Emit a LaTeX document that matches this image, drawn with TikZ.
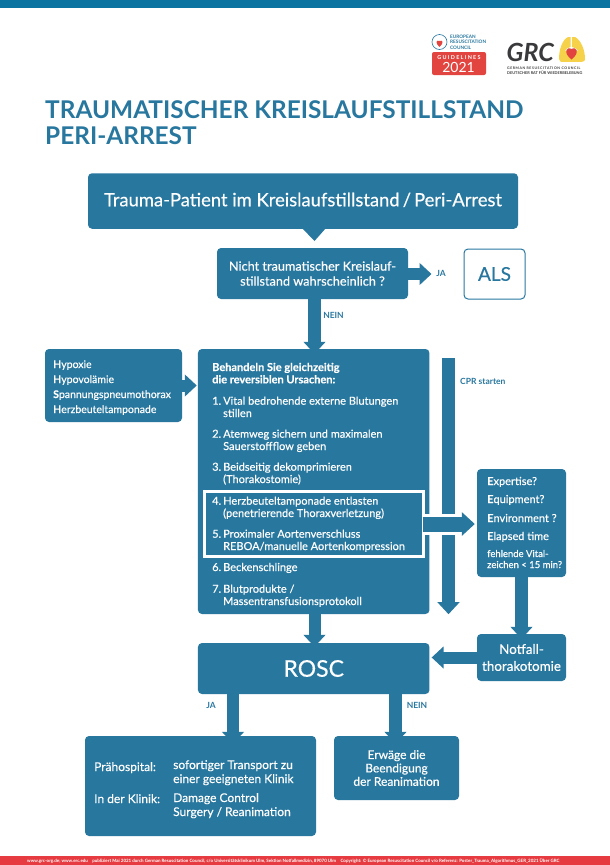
\documentclass[tikz,border=0pt]{standalone}
\usepackage{fontspec}
\setmainfont{Lato}
\newfontfamily\med{Lato}[FakeBold=0.35]
\usetikzlibrary{arrows.meta,calc}
\definecolor{ercblue}{HTML}{28779F}
\definecolor{topbar}{HTML}{0B74A0}
\definecolor{ftred}{HTML}{E63B40}
\definecolor{logored}{HTML}{E2453F}
\definecolor{logoyellow}{HTML}{F6D24A}
\definecolor{logodark}{HTML}{3A3A3C}
\newcommand{\fs}[2]{\fontsize{#1}{#2}\selectfont\med}
\newcommand{\num}[1]{\makebox[11pt][l]{#1}}
\tikzset{
  box/.style={fill=ercblue,rounded corners=4pt,inner sep=0pt,text=white,align=center,font=\fs{12.7}{15}},
  tline/.style={inner sep=0pt,text=white,align=left,anchor=base west,font=\fs{11}{12.3}},
  lab/.style={inner sep=0pt,text=ercblue,font=\fontsize{8.5}{10}\selectfont\bfseries},
  blockarrow/.style={draw=ercblue,line width=13pt,-{Triangle[length=12pt,width=21.5pt,fill=ercblue]}},
}
\begin{document}
\begin{tikzpicture}[x=1pt,y=-1pt]
\useasboundingbox (0,0) rectangle (610,865);
\fill[white] (0,0) rectangle (610,865);
\fill[topbar] (0,0) rectangle (610,8);
\fill[ftred] (0,856) rectangle (610,865);
\node[inner sep=0pt,anchor=base west,text=white] (footer) at (27,862.2) {\fontsize{4.47}{5}\selectfont\bfseries www.grc-org.de; www.erc.edu\quad publiziert Mai 2021 durch German Resuscitation Council, c/o Universitätsklinikum Ulm, Sektion Notfallmedizin, 89070 Ulm\quad Copyright: © European Resuscitation Council v/o Referenz: Poster\_Trauma\_Algorithmus\_GER\_2021 Über GRC};

% title
\node[inner sep=0pt,anchor=base west,text=ercblue] (t1) at (45,118) {\fontsize{24.4}{26}\selectfont\bfseries TRAUMATISCHER KREISLAUFSTILLSTAND};
\node[inner sep=0pt,anchor=base west,text=ercblue] (t2) at (45,144) {\fontsize{24.4}{26}\selectfont\bfseries PERI-ARREST};

% ERC logo
\draw[ercblue,line width=.6pt,fill=white] (439.5,42) circle (7.5);
\fill[logored] (439.5,47) .. controls (435,43) and (436,39.5) .. (439.5,41) .. controls (443,39.5) and (444,43) .. (439.5,47);
\foreach \yy/\tt in {38/EUROPEAN,43.5/RESUSCITATION,49/COUNCIL}
  \node[inner sep=0pt,anchor=base west,text=ercblue] at (450,\yy) {\fontsize{4.7}{5}\selectfont\bfseries \tt};
\fill[logored,rounded corners=2pt] (432,52) rectangle (486,75);
\node[inner sep=0pt,text=white] (g1) at (459,57.5) {\fontsize{5.4}{6}\selectfont\bfseries G U I D E L I N E S};
\node[inner sep=0pt,text=white] (g2) at (458.5,67.5) {\fontsize{14}{16}\selectfont 2021};
% GRC logo
\node[inner sep=0pt,anchor=base west,text=logodark] (grc) at (506.5,61.5) {\fontsize{25}{26}\selectfont\bfseries\itshape GRC};
\fill[logoyellow] (570.5,37) -- (570.5,47) .. controls (568,47) and (566,49) .. (565,51) -- (565,62) .. controls (561,62) and (559,62) .. (559,59) .. controls (559,50) and (562,40) .. (568,37) -- cycle;
\fill[logoyellow] (572,37) -- (572,47) .. controls (575,47) and (577,49) .. (578,51) -- (578,62) .. controls (582,62) and (585,62) .. (585,59) .. controls (585,50) and (581,40) .. (575,37) -- cycle;
\fill[logoyellow] (565,51) rectangle (578,62);
\fill[logored] (571.5,59.5) .. controls (563,53) and (566,46) .. (571.5,49) .. controls (577,46) and (580,53) .. (571.5,59.5);
\node[inner sep=0pt,anchor=base west,text=logodark] (g3) at (507,69.3) {\fontsize{3.5}{4}\selectfont\bfseries\addfontfeature{LetterSpace=16}GERMAN RESUSCITATION COUNCIL};
\node[inner sep=0pt,anchor=base west,text=logodark] (g4) at (507,74.5) {\fontsize{3.85}{5}\selectfont\bfseries DEUTSCHER RAT FÜR WIEDERBELEBUNG};

% helper x positions of the arrows
\coordinate (xa) at (314.5,0);
\coordinate (xb) at (233,0);
\coordinate (xc) at (395.5,0);
\coordinate (xd) at (521.5,0);

% boxes
\node[box,minimum width=430pt,minimum height=55.5pt,font=\fs{18.4}{22}] (start) at (303,201) {\raisebox{3pt}{Trauma-Patient im Kreislaufstillstand\,/\,Peri-Arrest}};
\fill[ercblue] (302,228) -- (326,228) -- (314.5,241) -- cycle;
\node[box,minimum width=191pt,minimum height=51pt] (q) at (312.5,273.5) {Nicht traumatischer Kreislauf-\\stillstand wahrscheinlich ?};
\node[draw=ercblue,line width=1pt,rounded corners=4pt,minimum width=61pt,minimum height=50pt,inner sep=0pt,text=ercblue,font=\fs{19}{22}] (als) at (494.5,274) {ALS};
\node[box,minimum width=137pt,minimum height=73pt] (cause) at (113.5,385.5) {};
\node[box,minimum width=231.5pt,minimum height=265pt] (treat) at (313.7,481.5) {};
\node[box,minimum width=89pt,minimum height=108pt] (exam) at (521.5,523) {};
\node[box,minimum width=89pt,minimum height=47pt,font=\fs{13.4}{17}] (thor) at (521.5,657.5) {Notfall-\\thorakotomie};
\node[box,minimum width=231.5pt,minimum height=51pt,font=\fs{23}{24}] (rosc) at (313.7,668.5) {ROSC};
\node[box,minimum width=231pt,minimum height=100pt] (klinik) at (200.5,786) {};
\node[box,minimum width=125pt,minimum height=64pt,font=\fs{12}{13.4}] (end) at (396.5,768) {Erwäge die\\Beendigung\\der Reanimation};

% cause list
\node[tline,font=\fs{10.5}{12}] (c1) at (53,368) {{\bfseries H}ypoxie};
\node[tline,font=\fs{10.5}{12}] (c2) at (53,383) {{\bfseries H}ypovolämie};
\node[tline,font=\fs{10.5}{12}] (c3) at (53,398) {{\bfseries S}pannungspneumothorax};
\node[tline,font=\fs{10.5}{12}] (c4) at (53,413) {{\bfseries H}erzbeuteltamponade};

% treatment list
\node[tline] (h) at (212,383.3) {\bfseries Behandeln Sie gleichzeitig\\\bfseries die reversiblen Ursachen:};
\node[tline] (l1) at (212,417) {\num{1.}Vital bedrohende externe Blutungen\\\num{}stillen};
\node[tline] (l2) at (212,450) {\num{2.}Atemweg sichern und maximalen\\\num{}Sauerstoffflow geben};
\node[tline] (l3) at (212,483) {\num{3.}Beidseitig dekomprimieren\\\num{}(Thorakostomie)};
\node[tline] (l4) at (212,517) {\num{4.}Herzbeuteltamponade entlasten\\\num{}(penetrierende Thoraxverletzung)};
\node[tline] (l5) at (212,550) {\num{5.}Proximaler Aortenverschluss\\\num{}REBOA/manuelle Aortenkompression};
\node[tline] (l6) at (212,571) {\num{6.}Beckenschlinge};
\node[tline] (l7) at (212,605) {\num{7.}Blutprodukte /\\\num{}Massentransfusionsprotokoll};

% exam list
\node[tline] (e1) at (487,485) {{\bfseries E}xpertise?};
\node[tline] (e2) at (487,503) {{\bfseries E}quipment?};
\node[tline] (e3) at (487,522) {{\bfseries E}nvironment ?};
\node[tline] (e4) at (487,540) {{\bfseries E}lapsed time};
\node[tline,font=\fs{9.5}{11}] (e5) at (487,568) {fehlende Vital-\\zeichen < 15 min?};

% final list
\node[tline,font=\fs{12}{14}] (k1) at (94,771) {Prähospital:};
\node[tline,font=\fs{12}{14}] (k2) at (173,783) {sofortiger Transport zu\\einer geeigneten Klinik};
\node[tline,font=\fs{12}{14}] (k3) at (94,803) {In der Klinik:};
\node[tline,font=\fs{12}{14}] (k4) at (173,816) {Damage Control\\Surgery / Reanimation};

% labels
\node[lab] (ja1) at (441,273) {JA};
\node[lab] (nein1) at (333.5,315) {NEIN};
\node[lab,anchor=west] (cpr) at (460,381) {CPR starten};
\node[lab] (ja2) at (211,705) {JA};
\node[lab] (nein2) at (417,705) {NEIN};

% connectors
\draw[blockarrow] (xa |- q.south) -- ([yshift=-5pt]xa |- treat.north);
\draw[blockarrow,line width=12pt] (q.east |- als.west) -- ([xshift=-32pt]als.west);
\draw[blockarrow,line width=12pt] (cause.east) -- ([xshift=-1pt]cause.east -| treat.west);
\draw[blockarrow] (448.5,358) coordinate (cprs) -- (cprs |- treat.south);
\draw[blockarrow,line width=12pt] (xa |- treat.south) -- ([yshift=-4pt]xa |- rosc.north);
\draw[blockarrow] (xd |- exam.south) -- ([yshift=-5pt]xd |- thor.north);
\draw[blockarrow,line width=12pt] (thor.west) -- ([xshift=2pt]thor.west -| rosc.east);
\draw[blockarrow,line width=12pt] (xb |- rosc.south) -- ([yshift=-8pt]xb |- klinik.north);
\draw[blockarrow,line width=13pt] (xc |- rosc.south) -- ([yshift=-8pt]xc |- end.north);

% framed steps and their connector
\node[draw=white,line width=2.3pt,minimum width=219pt,minimum height=65pt,inner sep=0pt] (frame) at (314,524) {};
\draw[white,line width=21pt] (frame.east) -- (462,524);
\draw[blockarrow,line width=15pt,-{Triangle[length=13pt,width=23pt,fill=ercblue]}] ([xshift=-2pt]frame.east) -- ([xshift=-2pt]frame.east -| exam.west);
\end{tikzpicture}
\end{document}
